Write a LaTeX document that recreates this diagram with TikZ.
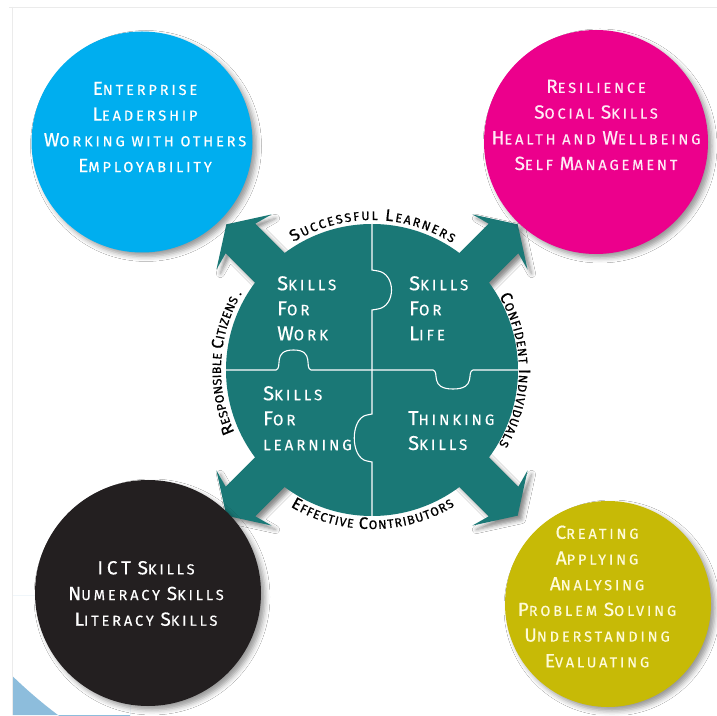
\documentclass[tikz,border=0pt]{standalone}
\usepackage{fontspec}
\usetikzlibrary{decorations.text,shadows.blur}
\newfontfamily\dfont[LetterSpace=20,FakeBold=0.5]{Fira Sans}
\newfontfamily\rfont[FakeBold=0.8]{Fira Sans}
\definecolor{hubteal}{HTML}{1A7876}
\definecolor{cyanA}{HTML}{00AEEF}
\definecolor{magA}{HTML}{EC008C}
\definecolor{blkA}{HTML}{231F20}
\definecolor{yelA}{HTML}{C7BA06}
\definecolor{skyA}{HTML}{8DBDDC}
\definecolor{pinkink}{HTML}{FFEAF5}
\definecolor{creamink}{HTML}{FFFBD8}
% small-caps style initials
\newcommand\Ca[1]{{\fontsize{19}{19}\selectfont #1}}
\newcommand\Cq[1]{{\fontsize{20}{20}\selectfont #1}}
% ring caption letters, spaced out by \ringkern
\newdimen\ringkern
\newcommand\rbig{\rfont\fontsize{16.5}{16.5}\selectfont\kern\ringkern}
\newcommand\rsmall{\rfont\fontsize{12.3}{12.3}\selectfont\kern\ringkern}
\tikzset{
  ball/.style={circle, inner sep=0pt, minimum size=#1,
    blur shadow={shadow xshift=4pt, shadow yshift=-4pt,
                 shadow blur radius=5pt, shadow opacity=40}},
  ctext/.style={align=center, inner sep=0pt,
    font=\dfont\fontsize{14.5}{25.7}\selectfont},
  qtext/.style={align=left, anchor=north west, inner sep=0pt, text=white,
    font=\dfont\fontsize{15}{25}\selectfont},
  seam/.style={white, line width=1.1pt},
  ringtext/.style={decorate, decoration={text along path, text align=center, text={#1}}},
}
\begin{document}
\begin{tikzpicture}[x=1pt,y=1pt]
\useasboundingbox (0,0) rectangle (717,715);
\fill[white] (0,0) rectangle (717,715);

% corner sweep and faint frame
\begin{scope}
  \clip (12.5,0) rectangle (130,120);
  \fill[skyA, even odd rule] (12.5,0) rectangle (130,120) (340,376) circle (470);
\end{scope}
\draw[black!8, line width=0.8pt] (9,708) -- (717,708);
\draw[black!8, line width=0.8pt] (12.5,708) -- (12.5,0);

\coordinate (C) at (372,345);

% shadows of the four arrows
\foreach \a in {45,135,225,315}
  \path[shift={(376,341)}, rotate=\a,
        blur shadow={shadow xshift=0pt, shadow yshift=0pt,
                     shadow blur radius=4pt, shadow opacity=45}]
    (0,-21) -- (186,-21) -- (181,-39) -- (206,0) -- (181,39) -- (186,21) -- (0,21) -- cycle;

% hub disc and arrows
\node[circle, fill=hubteal, minimum size=292pt, inner sep=0pt] (hub) at (C) {};
\foreach \a in {45,135,225,315}
  \fill[hubteal, shift={(C)}, rotate=\a]
    (0,-21) -- (186,-21) -- (181,-39) -- (206,0) -- (181,39) -- (186,21) -- (0,21) -- cycle;

% puzzle seams
\draw[seam] (hub.north) -- (372,445) -- (378,444)
  .. controls (396,441) and (396,409) .. (378,406) -- (372,405)
  -- (372,301) -- (367,300)
  .. controls (350,297) and (350,257) .. (367,254) -- (372,253)
  -- (hub.south);
\draw[seam] (hub.west) -- (276,345)
  .. controls (283,347) and (272,365) .. (293.5,365)
  .. controls (315,365) and (304,347) .. (311,345)
  -- (433,345)
  .. controls (440,343) and (429,326) .. (453,326)
  .. controls (477,326) and (466,343) .. (473,345)
  -- (hub.east);

% quadrant labels
\node[qtext] (work) at (277,439) {\Cq{S}KILLS\\\Cq{F}OR\\\Cq{W}ORK};
\node[qtext] (life) at (409,439) {\Cq{S}KILLS\\\Cq{F}OR\\\Cq{L}IFE};
\node[qtext] (learning) at (263,329) {\Cq{S}KILLS\\\Cq{F}OR\\LEARNING};
\node[qtext] (thinking) at (408,304) {\Cq{T}HINKING\\\Cq{S}KILLS};

% ring captions
\ringkern=1.9pt
\path[ringtext={|\rbig|S|\rsmall|UCCESSFUL |\rbig|L|\rsmall|EARNERS}]
  ([shift={(150:150)}]C) arc[start angle=150, end angle=30, radius=150];
\ringkern=0.8pt
\path[ringtext={|\rbig|C|\rsmall|ONFIDENT |\rbig|I|\rsmall|NDIVIDUALS}]
  ([shift={(60:147)}]C) arc[start angle=60, end angle=-60, radius=147];
\ringkern=1.1pt
\path[ringtext={|\rbig|E|\rsmall|FFECTIVE |\rbig|C|\rsmall|ONTRIBUTORS}]
  ([shift={(210:159)}]C) arc[start angle=210, end angle=330, radius=159];
\ringkern=0.3pt
\path[ringtext={|\rbig|R|\rsmall|ESPONSIBLE |\rbig|C|\rsmall|ITIZENS .}]
  ([shift={(237:151)}]C) arc[start angle=237, end angle=117, radius=151];

% outer circles
\node[ball=221pt, fill=cyanA] (enterprise) at (142,573) {};
\node[ball=224pt, fill=magA] (resilience) at (596,573) {};
\node[ball=226pt, fill=blkA] (ict) at (148,122) {};
\node[ball=206pt, fill=yelA] (creating) at (608,111) {};

\node[ctext, text=white] (enterprisetext) at (145,588)
  {\Ca{E}NTERPRISE\\\Ca{L}EADERSHIP\\\Ca{W}ORKING WITH OTHERS\\\Ca{E}MPLOYABILITY};
\node[ctext, text=pinkink] (resiliencetext) at (596,590)
  {\Ca{R}ESILIENCE\\\Ca{S}OCIAL \Ca{S}KILLS\\\Ca{H}EALTH AND \Ca{W}ELLBEING\\\Ca{S}ELF \Ca{M}ANAGEMENT};
\node[ctext, text=white] (icttext) at (146,121.5)
  {\Ca{ICT} \Ca{S}KILLS\\\Ca{N}UMERACY \Ca{S}KILLS\\\Ca{L}ITERACY \Ca{S}KILLS};
\node[ctext, text=creamink] (creatingtext) at (597,118.5)
  {\Ca{C}REATING\\\Ca{A}PPLYING\\\Ca{A}NALYSING\\\Ca{P}ROBLEM \Ca{S}OLVING\\\Ca{U}NDERSTANDING\\\Ca{E}VALUATING};
\end{tikzpicture}
\end{document}
